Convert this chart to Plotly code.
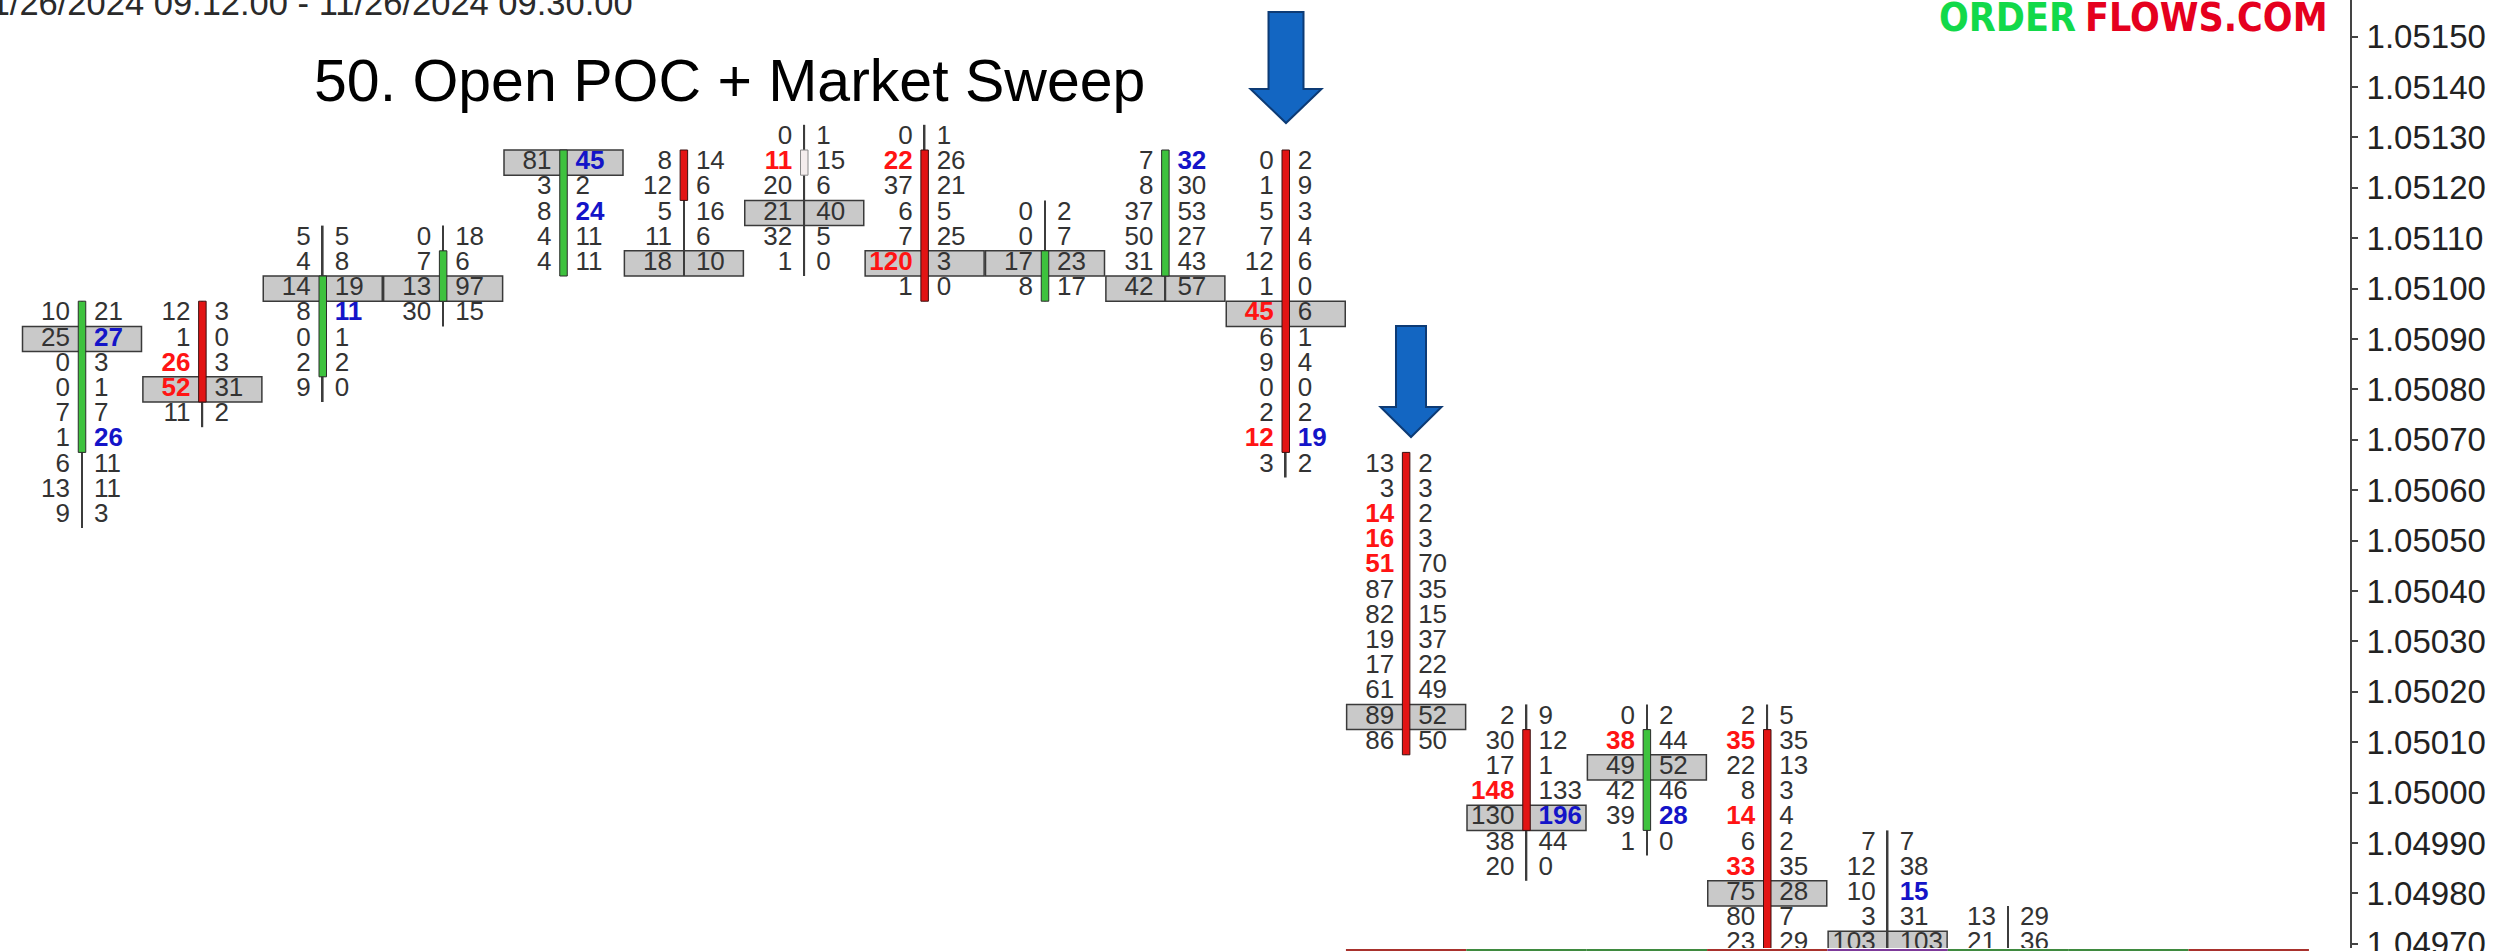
import plotly.graph_objects as go

# ---------------- data ----------------
STEP = 0.00005  # price ladder step (one footprint row)

candle_top = [1.05095, 1.05095, 1.05110, 1.05110, 1.05125, 1.05125, 1.05130, 1.05130,
              1.05115, 1.05125, 1.05125, 1.05065, 1.05015, 1.05015, 1.05015, 1.04990, 1.04975]

bid = [
    [10, 25, 0, 0, 7, 1, 6, 13, 9],
    [12, 1, 26, 52, 11],
    [5, 4, 14, 8, 0, 2, 9],
    [0, 7, 13, 30],
    [81, 3, 8, 4, 4],
    [8, 12, 5, 11, 18],
    [0, 11, 20, 21, 32, 1],
    [0, 22, 37, 6, 7, 120, 1],
    [0, 0, 17, 8],
    [7, 8, 37, 50, 31, 42],
    [0, 1, 5, 7, 12, 1, 45, 6, 9, 0, 2, 12, 3],
    [13, 3, 14, 16, 51, 87, 82, 19, 17, 61, 89, 86],
    [2, 30, 17, 148, 130, 38, 20],
    [0, 38, 49, 42, 39, 1],
    [2, 35, 22, 8, 14, 6, 33, 75, 80, 23],
    [7, 12, 10, 3, 103],
    [13, 21],
]
ask = [
    [21, 27, 3, 1, 7, 26, 11, 11, 3],
    [3, 0, 3, 31, 2],
    [5, 8, 19, 11, 1, 2, 0],
    [18, 6, 97, 15],
    [45, 2, 24, 11, 11],
    [14, 6, 16, 6, 10],
    [1, 15, 6, 40, 5, 0],
    [1, 26, 21, 5, 25, 3, 0],
    [2, 7, 23, 17],
    [32, 30, 53, 27, 43, 57],
    [2, 9, 3, 4, 6, 0, 6, 1, 4, 0, 2, 19, 2],
    [2, 3, 2, 3, 70, 35, 15, 37, 22, 49, 52, 50],
    [9, 12, 1, 133, 196, 44, 0],
    [2, 44, 52, 46, 28, 0],
    [5, 35, 13, 3, 4, 2, 35, 28, 7, 29],
    [7, 38, 15, 31, 103],
    [29, 36],
]
# row indices (from top) of highlighted imbalance cells
bid_imbalance = {1: [2, 3], 6: [1], 7: [1, 5], 10: [6, 11], 11: [2, 3, 4], 12: [3], 13: [1], 14: [1, 4, 6]}
ask_imbalance = {0: [1, 5], 2: [3], 4: [0, 2], 9: [0], 10: [11], 12: [4], 13: [4], 15: [2]}

poc_price = [1.05090, 1.05080, 1.05100, 1.05100, 1.05125, 1.05105, 1.05115, 1.05105,
             1.05105, 1.05100, 1.05095, 1.05015, 1.04995, 1.05005, 1.04980, 1.04970, None]

body_hi = [1.05095, 1.05095, 1.05100, 1.05105, 1.05125, 1.05125, 1.05125, 1.05125,
           1.05105, 1.05125, 1.05125, 1.05065, 1.05010, 1.05010, 1.05010, None, None]
body_lo = [1.05070, 1.05080, 1.05085, 1.05100, 1.05105, 1.05120, 1.05125, 1.05100,
           1.05100, 1.05105, 1.05070, 1.05010, 1.04995, 1.04995, 1.04955, None, None]
body_kind = ['up', 'down', 'up', 'up', 'up', 'down', 'doji', 'down',
             'up', 'up', 'down', 'down', 'down', 'up', 'down', None, None]
wick_extra_low = [0, 0, 0, 0, 0, 0, 0, 0, 0, 0, 0, 0, 0, 0, 4, 4, 4]  # rows continuing below view

strip_idx = [11, 12, 13, 14, 15, 16, 17, 18]
strip_color = ['#a8322d', '#3f8a3f', '#3f8a3f', '#a8322d', '#7d3a9a', '#3f8a3f', '#3f8a3f', '#a8322d']

y_ticks = [1.04970, 1.04980, 1.04990, 1.05000, 1.05010, 1.05020, 1.05030, 1.05040, 1.05050,
           1.05060, 1.05070, 1.05080, 1.05090, 1.05100, 1.05110, 1.05120, 1.05130, 1.05140, 1.05150]

title_text = "50. Open POC + Market Sweep"
date_text = "11/26/2024 09:12:00 - 11/26/2024 09:30:00"

# ---------------- geometry ----------------
W, H = 2497, 951
PLOT_R = 2350            # px of right edge of plot area (price axis line)
X0_PX, DX_PX = 82.0, 120.375   # first candle centre and spacing in px
REF_P, REF_PY, PX_PER_P = 1.05090, 339.0, 504000.0
MAIN_BOTTOM = 948.0

x_range = [(0 - X0_PX) / DX_PX, (PLOT_R - X0_PX) / DX_PX]
y_range = [REF_P - (MAIN_BOTTOM - REF_PY) / PX_PER_P, REF_P + REF_PY / PX_PER_P]

FONT = "Liberation Sans, Arial, Helvetica, sans-serif"
TXT_SIZE = 26
GAP = 12 / DX_PX

n = len(candle_top)
fig = go.Figure()

# POC boxes
pi = [i for i in range(n) if poc_price[i] is not None]
fig.add_trace(go.Bar(
    x=pi, y=[STEP] * len(pi), base=[poc_price[i] - STEP / 2 for i in pi],
    width=119 / DX_PX, marker=dict(color='#c9c9c9', line=dict(color='#3a3a3a', width=1.5)),
    hoverinfo='skip'))

# wicks
wick_hi = [candle_top[i] for i in range(n)]
wick_lo = [candle_top[i] - (len(bid[i]) - 1 + wick_extra_low[i]) * STEP for i in range(n)]
fig.add_trace(go.Bar(
    x=list(range(n)), y=[wick_hi[i] - wick_lo[i] + STEP for i in range(n)],
    base=[wick_lo[i] - STEP / 2 for i in range(n)],
    width=1.7 / DX_PX, marker=dict(color='#3c3c3c', line=dict(width=0)), hoverinfo='skip'))

# bodies
body_fill = {'up': '#3ec23e', 'down': '#e21414', 'doji': '#f4eded'}
body_line = {'up': '#2b2b2b', 'down': '#3a1010', 'doji': '#8a8a8a'}
bi = [i for i in range(n) if body_kind[i] is not None]
fig.add_trace(go.Bar(
    x=bi, y=[body_hi[i] - body_lo[i] + STEP for i in bi], base=[body_lo[i] - STEP / 2 for i in bi],
    width=7.5 / DX_PX,
    marker=dict(color=[body_fill[body_kind[i]] for i in bi],
                line=dict(color=[body_line[body_kind[i]] for i in bi], width=1)),
    hoverinfo='skip'))

# bottom strip (top of lower pane)
fig.add_trace(go.Bar(x=strip_idx, y=[1] * len(strip_idx), width=1.0, yaxis='y2',
                     marker=dict(color=strip_color, line=dict(width=0)), hoverinfo='skip'))

# cell texts
groups = {'Ln': ([], [], []), 'Lr': ([], [], []), 'Rn': ([], [], []), 'Rb': ([], [], [])}
for i in range(n):
    for r in range(len(bid[i])):
        p = candle_top[i] - r * STEP
        key = 'Lr' if r in bid_imbalance.get(i, []) else 'Ln'
        groups[key][0].append(i - GAP); groups[key][1].append(p); groups[key][2].append(str(bid[i][r]))
        key = 'Rb' if r in ask_imbalance.get(i, []) else 'Rn'
        groups[key][0].append(i + GAP); groups[key][1].append(p); groups[key][2].append(str(ask[i][r]))

styles = {'Ln': ('middle left', '#333333', 'normal'), 'Lr': ('middle left', '#ff1414', 'bold'),
          'Rn': ('middle right', '#333333', 'normal'), 'Rb': ('middle right', '#1414c8', 'bold')}
for key, (xs, ys, ts) in groups.items():
    pos, col, wt = styles[key]
    fig.add_trace(go.Scatter(x=xs, y=ys, text=ts, mode='text', textposition=pos,
                             textfont=dict(family=FONT, size=TXT_SIZE, color=col, weight=wt),
                             hoverinfo='skip'))


# ---------------- arrows (annotation shapes, px geometry) ----------------
def px_to_paper(px, py):
    return px / PLOT_R, (H - py) / H


def arrow_path(tip_x, tip_y, head_base_y, head_half, shaft_half, top_y):
    pts = [(tip_x - shaft_half, top_y), (tip_x + shaft_half, top_y), (tip_x + shaft_half, head_base_y),
           (tip_x + head_half, head_base_y), (tip_x, tip_y), (tip_x - head_half, head_base_y),
           (tip_x - shaft_half, head_base_y)]
    s = ""
    for k, (a, b) in enumerate(pts):
        u, v = px_to_paper(a, b)
        s += ("M" if k == 0 else "L") + f"{u:.5f},{v:.5f} "
    return s + "Z"


shapes = [
    dict(type='path', xref='paper', yref='paper', path=arrow_path(1286, 123, 89, 35.5, 17.5, 12),
         fillcolor='#1366c2', line=dict(color='#0d3b75', width=2)),
    dict(type='path', xref='paper', yref='paper', path=arrow_path(1411, 437, 407, 30.5, 15, 326),
         fillcolor='#1366c2', line=dict(color='#0d3b75', width=2)),
]

LOGO_FONT = "DejaVu Sans Condensed, DejaVu Sans, sans-serif"
annotations = [
    dict(text=title_text, xref='paper', yref='paper', x=729 / PLOT_R, y=(H - 81) / H,
         xanchor='center', yanchor='middle', showarrow=False,
         font=dict(family=FONT, size=59, color='#000000')),
    dict(text=date_text, xref='paper', yref='paper', x=-28.5 / PLOT_R, y=(H - 3) / H,
         xanchor='left', yanchor='middle', showarrow=False,
         font=dict(family=FONT, size=34.5, color='#2a2a2a')),
    dict(text="ORDER", xref='paper', yref='paper', x=2078 / PLOT_R, y=(H - 18) / H,
         xanchor='right', yanchor='middle', showarrow=False,
         font=dict(family=LOGO_FONT, size=39, weight='bold', color='#12d94a')),
    dict(text="FLOWS.COM", xref='paper', yref='paper', x=2083 / PLOT_R, y=(H - 18) / H,
         xanchor='left', yanchor='middle', showarrow=False,
         font=dict(family=LOGO_FONT, size=39, weight='bold', color='#e5001e')),
]

fig.update_layout(
    template='none',
    width=W, height=H, margin=dict(l=0, r=W - PLOT_R, t=0, b=0, pad=0, autoexpand=False),
    paper_bgcolor='white', plot_bgcolor='white', showlegend=False, barmode='overlay',
    xaxis=dict(range=x_range, visible=False, fixedrange=True, automargin=False),
    yaxis=dict(domain=[(H - MAIN_BOTTOM) / H, 1], range=y_range, side='right',
               showline=True, linecolor='#444444', linewidth=2, mirror=False,
               ticks='outside', ticklen=6, tickwidth=1.5, tickcolor='#444444',
               tickmode='array', tickvals=y_ticks, ticktext=[f"{v:.5f}" for v in y_ticks],
               tickfont=dict(family=FONT, size=33, color='#222222'),
               ticklabelstandoff=2, ticklabeloverflow='allow', automargin=False,
               showgrid=False, zeroline=False, fixedrange=True),
    yaxis2=dict(domain=[0, 2 / H], range=[0, 1], visible=False, fixedrange=True, automargin=False),
    shapes=shapes, annotations=annotations,
)

fig.write_html("out.html", config=dict(displayModeBar=False),
               post_script="document.body.style.margin='0px';document.body.style.overflow='hidden';")
